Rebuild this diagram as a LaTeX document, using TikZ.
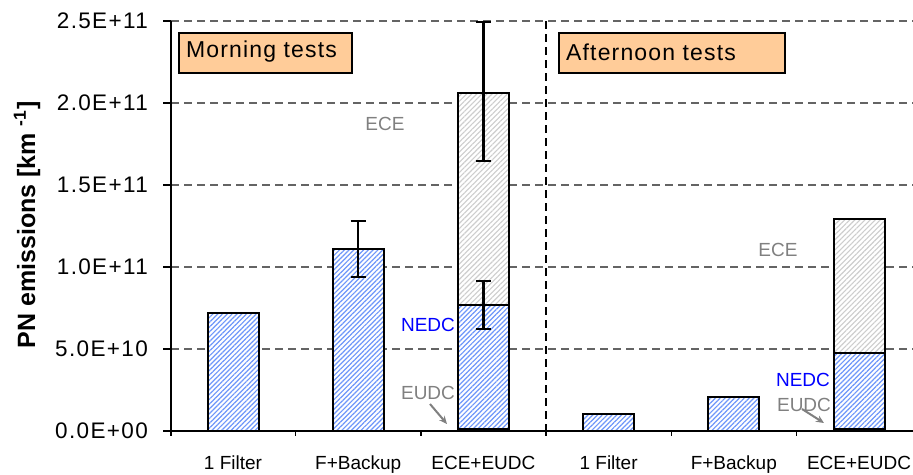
\documentclass[tikz,border=0pt]{standalone}
\usepackage{fontspec}
\setmainfont{Liberation Sans}
\newfontfamily\lsfont[LetterSpace=5]{Liberation Sans}
\newfontfamily\ylfont[LetterSpace=6]{Liberation Sans}
\usetikzlibrary{patterns.meta,arrows.meta}
\definecolor{peach}{RGB}{255,204,153}
\definecolor{hblue}{RGB}{110,150,250}
\definecolor{hgray}{RGB}{205,205,205}
\definecolor{gridc}{RGB}{100,100,100}
\definecolor{lblgray}{RGB}{128,128,128}
\begin{document}
\begin{tikzpicture}[x=1pt,y=-1pt,
  gridline/.style={gridc,line width=1.2pt,dash pattern=on 8pt off 5pt},
  sepline/.style={black,line width=2pt,dash pattern=on 8pt off 5pt},
  axisline/.style={black,line width=1.5pt},
  bluebar/.style={draw=black,line width=2pt,preaction={fill=white},
    pattern={Lines[angle=45,distance=3.4pt,line width=1.2pt]},pattern color=hblue},
  graybar/.style={draw=black,line width=2pt,preaction={fill=white},
    pattern={Lines[angle=45,distance=3.6pt,line width=1.1pt]},pattern color=hgray},
  ebar/.style={black,line width=2.2pt},
  ytl/.style={anchor=east,inner sep=0pt,font=\ylfont\fontsize{22.5}{24}\selectfont},
  xtl/.style={anchor=base,inner sep=0pt,font=\fontsize{19}{22}\selectfont},
  seglbl/.style={inner sep=0pt,font=\fontsize{19}{22}\selectfont},
  tagbox/.style={draw=black,line width=1.5pt,fill=peach,anchor=north west,
    minimum height=40pt,inner sep=0pt,text depth=0pt},
  lblarrow/.style={lblgray,line width=2pt,-{Stealth[length=8pt,width=7pt]}}
]
\useasboundingbox (0,0) rectangle (913,474);
% gridlines
\foreach \yy in {21,103,185,267,349}
  \draw[gridline] (171,\yy) -- (913,\yy);
% bars (morning)
\draw[bluebar] (207.5,431) rectangle (258.5,313);
\draw[bluebar] (332.7,431) rectangle (383.7,249);
\draw[graybar] (457.9,305) rectangle (508.9,93);
\draw[bluebar] (457.9,431) rectangle (508.9,305);
\draw[black,line width=2pt] (457.9,429) -- (508.9,429);
% bars (afternoon)
\draw[bluebar] (583.1,431) rectangle (634.1,414);
\draw[bluebar] (708.3,431) rectangle (759.3,397);
\draw[graybar] (833.5,353) rectangle (884.5,219);
\draw[bluebar] (833.5,431) rectangle (884.5,353);
\draw[black,line width=2pt] (833.5,429) -- (884.5,429);
% separator
\draw[sepline] (546.1,21) -- (546.1,431);
% axes
\draw[axisline] (171,21) -- (171,436);
\foreach \yy in {21,103,185,267,349,431}
  \draw[axisline] (163,\yy) -- (171,\yy);
\draw[axisline] (171,431) -- (913,431);
\foreach \xx in {295.7,420.9,546.1,671.3,796.5}
  \draw[axisline] (\xx,431) -- (\xx,436);
% error bars
\draw[ebar] (350.7,221) -- (365.7,221) (358.2,221) -- (358.2,277) (350.7,277) -- (365.7,277);
\draw[ebar] (475.9,22) -- (490.9,22) (483.4,22) -- (483.4,161) (475.9,161) -- (490.9,161);
\draw[ebar] (475.9,281) -- (490.9,281) (483.4,281) -- (483.4,329) (475.9,329) -- (490.9,329);
% y tick labels
\node[ytl] (y25) at (148,21) {2.5E+11};
\node[ytl] (y20) at (148,103) {2.0E+11};
\node[ytl] (y15) at (148,185) {1.5E+11};
\node[ytl] (y10) at (148,267) {1.0E+11};
\node[ytl] (y05) at (148,349) {5.0E+10};
\node[ytl] (y00) at (148,431) {0.0E+00};
% y title
\node[rotate=90,anchor=base,inner sep=0pt,font=\bfseries\fontsize{25}{28}\selectfont] (ytitle) at (35,225)
  {PN emissions [km \textsuperscript{-1}]};
% x tick labels
\node[xtl] (x1) at (233,469) {1 Filter};
\node[xtl] (x2) at (358.2,469) {F+Backup};
\node[xtl] (x3) at (483.4,469) {ECE+EUDC};
\node[xtl] (x4) at (608.6,469) {1 Filter};
\node[xtl] (x5) at (733.8,469) {F+Backup};
\node[xtl] (x6) at (859,469) {ECE+EUDC};
% tag boxes
\node[tagbox,minimum width=173pt] (morning) at (178,32) {};
\node[anchor=west,inner sep=0pt,font=\lsfont\fontsize{23}{26}\selectfont] (morningtxt) at (186,52) {Morning tests};
\node[tagbox,minimum width=226pt] (afternoon) at (558,32) {};
\node[anchor=west,inner sep=0pt,font=\lsfont\fontsize{23}{26}\selectfont] (afternoontxt) at (566,52) {Afternoon tests};
% segment labels
\node[seglbl,text=lblgray] (ece1) at (385,124) {ECE};
\node[seglbl,text=blue] (nedc1) at (428,325) {NEDC};
\node[seglbl,text=lblgray] (eudc1) at (428,393) {EUDC};
\node[seglbl,text=lblgray] (ece2) at (778,250) {ECE};
\node[seglbl,text=blue] (nedc2) at (803,380) {NEDC};
\node[seglbl,text=lblgray] (eudc2) at (804,405) {EUDC};
\coordinate (a1s) at (430,404);
\coordinate (a1e) at (447,424);
\coordinate (a2s) at (802,409);
\coordinate (a2e) at (824,423);
\draw[lblarrow] (a1s) -- (a1e);
\draw[lblarrow] (a2s) -- (a2e);
\end{tikzpicture}
\end{document}
